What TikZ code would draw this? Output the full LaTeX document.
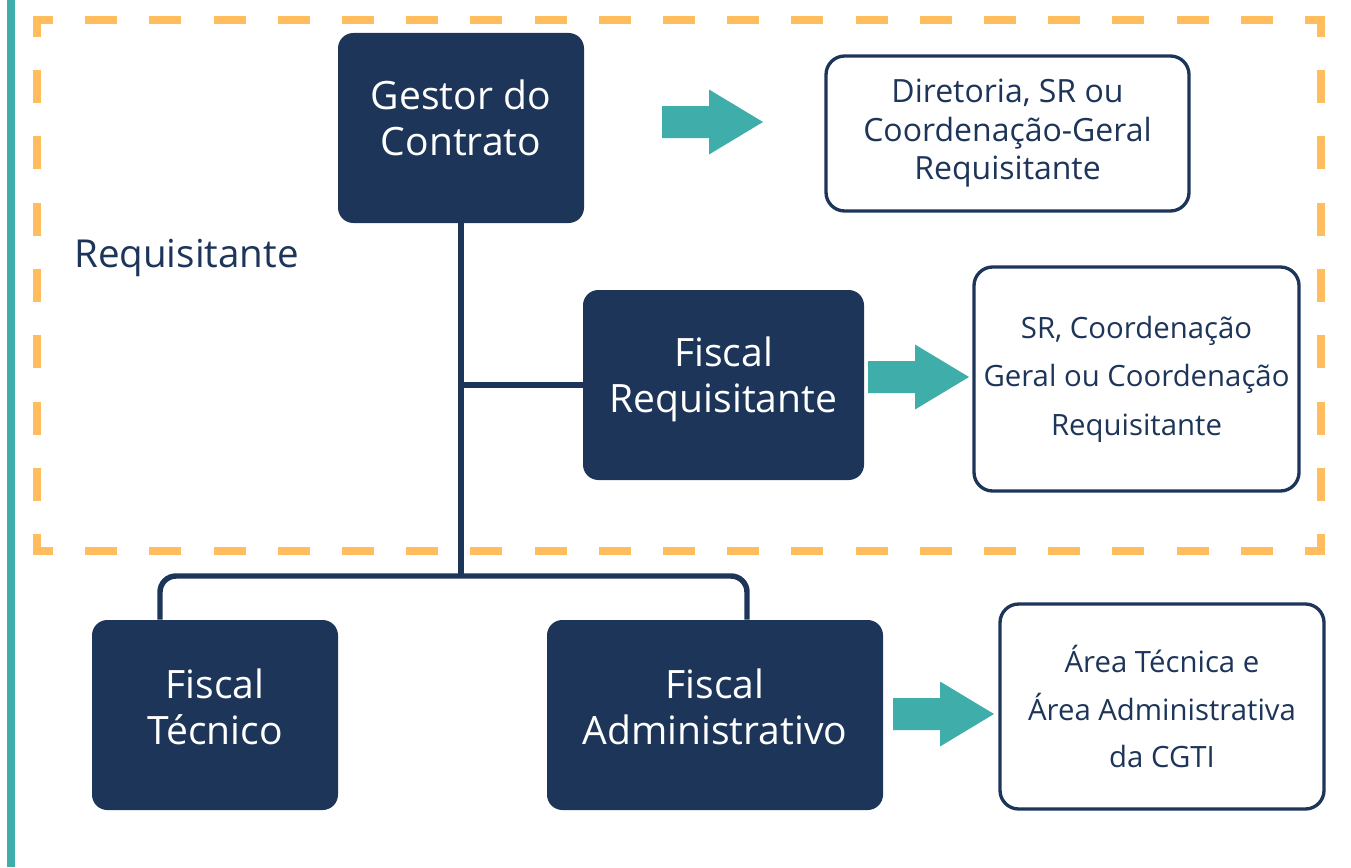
\documentclass[tikz,border=0pt]{standalone}
\usepackage{fontspec}
\setmainfont{Open Sans}
\usetikzlibrary{calc}
\definecolor{navy}{HTML}{1D3559}
\definecolor{tealc}{HTML}{3FADAA}
\definecolor{orng}{HTML}{FFBD5E}
\begin{document}
\begin{tikzpicture}[x=0.75pt,y=-0.75pt,
  darkbox/.style={fill=navy, draw=none, rounded corners=11.5pt, inner sep=0pt},
  darktext/.style={text=white, align=center, inner sep=0pt,
    font=\fontsize{29.3}{34.5}\selectfont},
  whitebox/.style={draw=navy, line width=2.5pt, fill=white, rounded corners=14pt,
    text=navy, align=center, inner sep=0pt},
  conn/.style={draw=navy, line width=4.1pt},
  dashh/.style={draw=orng, line width=6pt, line cap=rect,
    dash pattern=on 18.075pt off 30.075pt, dash phase=9.04pt},
  dashv/.style={draw=orng, line width=6pt, line cap=rect,
    dash pattern=on 18.89pt off 30.89pt, dash phase=9.45pt},
  blockarrow/.pic={\fill[tealc] (0,-16) -- (47,-16) -- (47,-32.5) -- (101,0)
    -- (47,32.5) -- (47,16) -- (0,16) -- cycle;}]
\useasboundingbox (0,0) rectangle (1351,867);

% left teal bar
\fill[tealc] (7,0) rectangle (15,867);

% dashed frame, each side from its corner
\coordinate (ftl) at (37,20);
\coordinate (ftr) at (1321,20);
\coordinate (fbl) at (37,551);
\coordinate (fbr) at (1321,551);
\draw[dashh] (ftl) -- (ftr);
\draw[dashh] (fbl) -- (fbr);
\draw[dashv] (ftl) -- (fbl);
\draw[dashv] (ftr) -- (fbr);

\node[anchor=base west, inner sep=0pt, text=navy,
  font=\fontsize{28.9}{34.5}\selectfont] (reqlabel) at (74,267) {Requisitante};

% dark boxes
\node[darkbox, minimum width=184.5pt, minimum height=142.5pt] (gestor) at (461,128) {};
\node[darkbox, minimum width=210.75pt, minimum height=142.5pt] (req) at (723.5,385) {};
\node[darkbox, minimum width=184.5pt, minimum height=142.5pt] (tecnico) at (215,715) {};
\node[darkbox, minimum width=252pt, minimum height=142.5pt] (admin) at (715,715) {};

\node[darktext] (gestorT) at (461,117.5) {Gestor do\\Contrato};
\node[darktext] (reqT) at (723.5,379.5) {Fiscal\\Requisitante};
\node[darktext] (tecnicoT) at (215,706.5) {Fiscal\\Técnico};
\node[darktext] (adminT) at (715,706.5) {Fiscal\\Administrativo};

% white boxes
\node[whitebox, minimum width=272.25pt, minimum height=116.25pt,
  font=\fontsize{24}{28.9}\selectfont] (dir) at (1007.5,133.5)
  {Diretoria, SR ou\\Coordenação-Geral\\Requisitante};
\node[whitebox, minimum width=243.75pt, minimum height=168pt,
  font=\fontsize{22}{36.4}\selectfont] (sr) at (1136.5,379)
  {SR, Coordenação\\Geral ou Coordenação\\Requisitante};
\node[whitebox, minimum width=243pt, minimum height=153.75pt,
  font=\fontsize{22}{35.6}\selectfont] (area) at (1162,706.5)
  {Área Técnica e\\Área Administrativa\\da CGTI};

% connectors
\coordinate (jn) at (461,576);
\coordinate (tj) at (160,576);
\coordinate (aj) at (747,576);
\draw[conn] (gestor.south) -- (jn);
\draw[conn] (gestor.south |- req.west) -- (req.west);
\draw[conn, rounded corners=12pt] (tj |- tecnico.north) -- (tj) -- (aj) -- (aj |- admin.north);

% block arrows
\pic at (662,122) {blockarrow};
\pic at (868,377) {blockarrow};
\pic at (893,714) {blockarrow};
\end{tikzpicture}
\end{document}
